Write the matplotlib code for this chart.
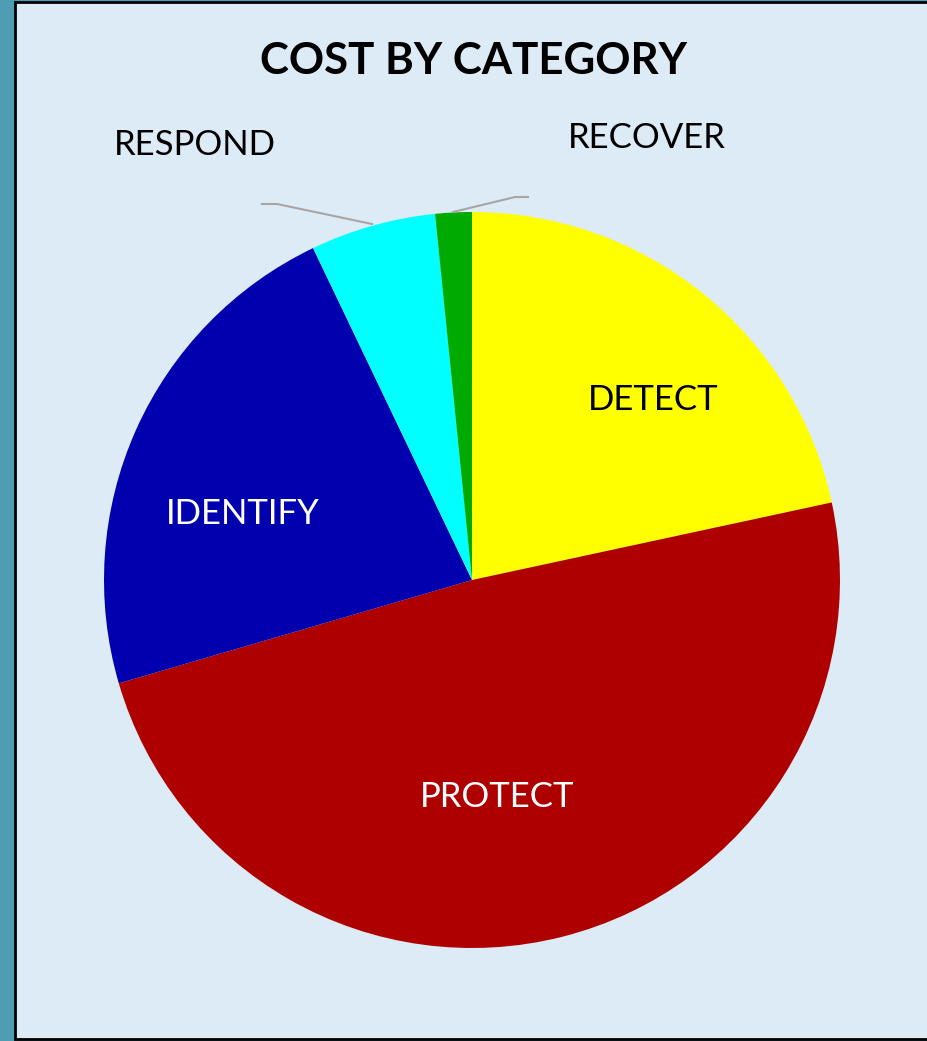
import matplotlib.pyplot as plt
from matplotlib.patches import Rectangle

# slice data, clockwise from 12 o'clock
labels = ["DETECT", "PROTECT", "IDENTIFY", "RESPOND", "RECOVER"]
shares = [21.6, 48.8, 22.4, 5.5, 1.6]
colors = ["#FFFF00", "#AF0000", "#0000AF", "#00FFFF", "#00AA00"]
text_colors = ["black", "white", "white", "black", "black"]

plt.rcParams['font.family'] = ['Lato', 'DejaVu Sans']

W, H = 928, 1041
fig = plt.figure(figsize=(W / 100, H / 100), dpi=100)
fig.patch.set_facecolor("#4f9db3")

# chart panel, behind the axes
fig.patches.append(Rectangle((15 / W, 2 / H), 1.0, (H - 4) / H,
                             transform=fig.transFigure, facecolor="#DDEBF7",
                             edgecolor="black", linewidth=2, zorder=-1))

ax = fig.add_axes([0, 0, 1, 1])
ax.patch.set_visible(False)

wedges, _ = ax.pie(shares, colors=colors, startangle=90, counterclock=False,
                   center=(472, H - 580), radius=368, frame=True,
                   wedgeprops=dict(linewidth=0))
ax.set_xlim(0, W)
ax.set_ylim(0, H)
ax.set_aspect("equal")
ax.axis("off")

# labels (pixel positions, y from top)
label_pos = {"DETECT": (653, 400), "PROTECT": (497, 797),
             "IDENTIFY": (243, 514), "RESPOND": (195, 145),
             "RECOVER": (647, 138)}
for lab, tc in zip(labels, text_colors):
    x, y = label_pos[lab]
    ax.text(x, H - y, lab, color=tc, fontsize=25, ha="center", va="center")

# leader lines for the small slices
ax.plot([262, 277, 372], [H - 204, H - 204, H - 224], color="#A6A6A6", lw=1.5)
ax.plot([528, 515, 453], [H - 197, H - 197, H - 212], color="#A6A6A6", lw=1.5)

ax.text(474, H - 61, "COST BY CATEGORY", fontsize=31.5, fontweight="bold",
        ha="center", va="center", color="black")

fig.savefig("out.png", dpi=100, facecolor=fig.get_facecolor())
